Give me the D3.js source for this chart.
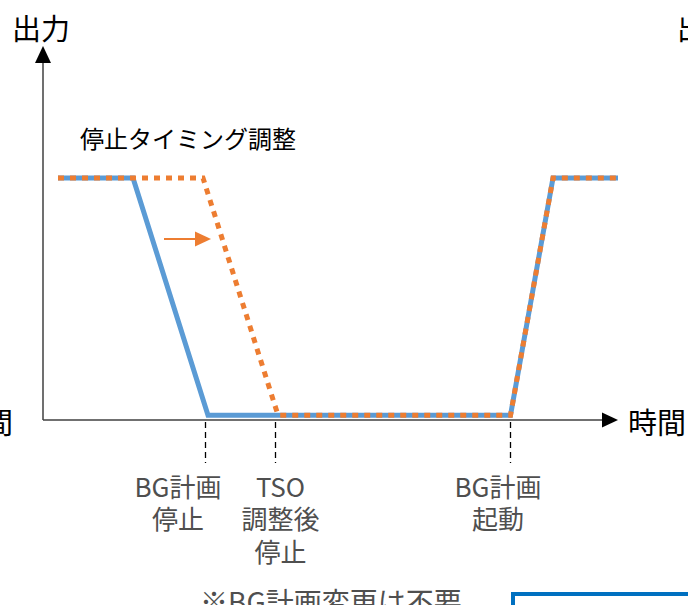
<!DOCTYPE html>
<html>
<head>
<meta charset="utf-8">
<script src="https://cdn.jsdelivr.net/npm/d3@7"></script>
<style>
  html, body { margin: 0; padding: 0; background: #fff; overflow: hidden; }
  svg { display: block; }
  text { font-family: "Noto Sans CJK JP", "Noto Sans", sans-serif; }
</style>
</head>
<body>
<script>
// time axis in abstract units, output in percent
const blueT = [0.6, 3.6, 6.6, 18.7, 20.4, 23]
const blueP = [100, 100, 2, 2, 100, 100]
const orangeT = [0.6, 6.4, 9.4, 18.7, 20.4, 23]
const orangeP = [100, 100, 2, 2, 100, 100]

const eventT = [6.5, 9.3, 18.7]
const labelT = [5.4, 9.5, 18.2]
const eventLabels = [
  ['BG計画', '停止'],
  ['TSO', '調整後', '停止'],
  ['BG計画', '起動'],
]

const SVG_WIDTH = 688
const SVG_HEIGHT = 605
const BLUE = '#5b9bd5'
const ORANGE = '#ed7d31'
const AXIS = '#404040'
const LABEL = '#4f4f4f'

const x = d3.scaleLinear().domain([0, 23]).range([43, 618])
const y = d3.scaleLinear().domain([0, 100]).range([420, 178])

const svg = d3.select('body')
  .append('svg')
  .attr('width', SVG_WIDTH)
  .attr('height', SVG_HEIGHT)

// axes with arrow heads
svg.append('line')
  .attr('x1', x(0)).attr('x2', x(0))
  .attr('y1', y(0)).attr('y2', 60)
  .attr('stroke', AXIS).attr('stroke-width', 1.5)
svg.append('path')
  .attr('d', `M${x(0)},46 L${x(0) - 8},63 L${x(0) + 8},63 Z`)
  .attr('fill', '#000')

svg.append('line')
  .attr('x1', x(0)).attr('x2', 604)
  .attr('y1', y(0)).attr('y2', y(0))
  .attr('stroke', AXIS).attr('stroke-width', 1.5)
svg.append('path')
  .attr('d', `M618,${y(0)} L602,${y(0) - 7.5} L602,${y(0) + 7.5} Z`)
  .attr('fill', '#000')

// axis titles (plus the cut-off ones from the neighbouring panels)
svg.append('text').text('出力')
  .attr('x', 12).attr('y', 27)
  .attr('dominant-baseline', 'central')
  .attr('font-size', 29)
svg.append('text').text('出力')
  .attr('x', 677).attr('y', 27)
  .attr('dominant-baseline', 'central')
  .attr('font-size', 29)
svg.append('text').text('時間')
  .attr('x', 628).attr('y', 421)
  .attr('dominant-baseline', 'central')
  .attr('font-size', 29)
svg.append('text').text('時間')
  .attr('x', 13).attr('y', 421)
  .attr('text-anchor', 'end')
  .attr('dominant-baseline', 'central')
  .attr('font-size', 29)

// dashed event markers
svg.append('g')
  .selectAll('line')
  .data(eventT)
  .enter()
  .append('line')
    .attr('x1', d => x(d)).attr('x2', d => x(d))
    .attr('y1', y(0) + 2).attr('y2', 463)
    .attr('stroke', '#000')
    .attr('stroke-width', 1.3)
    .attr('stroke-dasharray', '6,4')

// event labels
eventLabels.forEach((lines, i) => {
  const t = svg.append('text')
    .attr('text-anchor', 'middle')
    .attr('font-size', 26)
    .attr('fill', LABEL)
  lines.forEach((s, j) => {
    t.append('tspan')
      .attr('x', x(labelT[i]))
      .attr('y', 485 + j * 32.5)
      .attr('dominant-baseline', 'central')
      .text(s)
  })
})

// lines
const line = d3.line().x(d => x(d[0])).y(d => y(d[1]))

svg.append('path')
  .datum(d3.zip(blueT, blueP))
  .attr('d', line)
  .attr('fill', 'none')
  .attr('stroke', BLUE)
  .attr('stroke-width', 5)

svg.append('path')
  .datum(d3.zip(orangeT, orangeP))
  .attr('d', line)
  .attr('fill', 'none')
  .attr('stroke', ORANGE)
  .attr('stroke-width', 5)
  .attr('stroke-dasharray', '6,6')

// shift arrow
svg.append('line')
  .attr('x1', 164).attr('x2', 197)
  .attr('y1', 239).attr('y2', 239)
  .attr('stroke', ORANGE).attr('stroke-width', 2)
svg.append('path')
  .attr('d', 'M211,239 L195,231.5 L195,246.5 Z')
  .attr('fill', ORANGE)

svg.append('text').text('停止タイミング調整')
  .attr('x', 80).attr('y', 137)
  .attr('dominant-baseline', 'central')
  .attr('font-size', 24)

svg.append('text').text('※BG計画変更は不要')
  .attr('x', 200).attr('y', 601)
  .attr('dominant-baseline', 'central')
  .attr('font-size', 28)
  .attr('fill', LABEL)

// box from the next panel
svg.append('rect')
  .attr('x', 513).attr('y', 594)
  .attr('width', 200).attr('height', 40)
  .attr('fill', 'none')
  .attr('stroke', '#0070c0')
  .attr('stroke-width', 4)
</script>
</body>
</html>
